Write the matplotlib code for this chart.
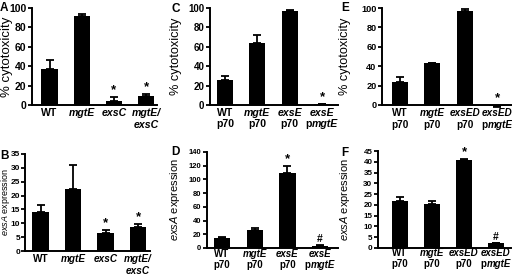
import matplotlib
matplotlib.use("Agg")
import matplotlib.pyplot as plt
from matplotlib.offsetbox import TextArea, HPacker, AnnotationBbox

plt.rcParams['font.family'] = ['Liberation Sans', 'DejaVu Sans']
plt.rcParams['mathtext.fontset'] = 'custom'
plt.rcParams['mathtext.rm'] = 'Liberation Sans'
plt.rcParams['mathtext.it'] = 'Liberation Sans:italic'

# ---------------- data ----------------
# each label: list of lines, each line a list of (text, italic) segments
labels_AB = [[[("WT", False)]],
             [[("mgtE", True)]],
             [[("exsC", True)]],
             [[("mgtE/", True)], [("exsC", True)]]]
labels_CD = [[[("WT", False)], [("p70", False)]],
             [[("mgtE", True)], [("p70", False)]],
             [[("exsE", True)], [("p70", False)]],
             [[("exsE", True)], [("p", False), ("mgtE", True)]]]
labels_EF = [[[("WT", False)], [("p70", False)]],
             [[("mgtE", True)], [("p70", False)]],
             [[("exsED", True)], [("p70", False)]],
             [[("exsED", True)], [("p", False), ("mgtE", True)]]]

A_vals = [37, 92, 4, 9.5]
A_err = [9, 2, 4, 1.5]
A_marks = ["", "", "*", "*"]

B_vals = [14.2, 22.5, 6.5, 8.5]
B_err = [2.3, 8.5, 1.2, 1.4]
B_marks = ["", "", "*", "*"]

C_vals = [25.5, 64, 97, 1]
C_err = [4, 8, 1, 0.5]
C_marks = ["", "", "", "*"]

D_vals = [15, 26.5, 110, 3.5]
D_err = [1.5, 3, 10, 1]
D_marks = ["", "", "*", "#"]

E_vals = [23.5, 43, 97, -1.5]
E_err = [5, 0.8, 1.5, 0.5]
E_marks = ["", "", "", "*"]

F_vals = [21.8, 20.5, 41, 2.2]
F_err = [1.8, 1.2, 0.5, 0.3]
F_marks = ["", "", "*", "#"]

W, H = 512, 274
PT = 0.72  # points per pixel at dpi 100
fig = plt.figure(figsize=(W / 100, H / 100), dpi=100)


def px_axes(left, right, top_px, bot_px):
    return fig.add_axes([left / W, 1 - bot_px / H, (right - left) / W, (bot_px - top_px) / H])


def panel(letter, lx, ly, left, right, top_px, zero_px, centers_px, vals, errs, marks,
          labels, ymax, ystep, ylabel, ylab_x, ytick_fs, xlab_fs, line_offs, ylab_fs,
          ymin=0.0, ytick_pad=1):
    ppu = (zero_px - top_px) / ymax
    bot_px = zero_px + (-ymin) * ppu
    ax = px_axes(left, right, top_px, bot_px)
    spacing = (centers_px[-1] - centers_px[0]) / 3.0
    xl = (left - centers_px[0]) / spacing
    xr = (right - centers_px[0]) / spacing
    x = list(range(len(vals)))
    ax.bar(x, vals, width=0.5, color='black', zorder=2)
    up = [e if v >= 0 else 0 for v, e in zip(vals, errs)]
    dn = [0 if v >= 0 else e for v, e in zip(vals, errs)]
    ax.errorbar(x, vals, yerr=[dn, up], fmt='none', ecolor='black', elinewidth=1.3,
                capsize=3.2, capthick=1.3, zorder=3)
    for xi, v, e, m in zip(x, vals, errs, marks):
        if m:
            top = max(v + (e if v >= 0 else 0), 0)
            ax.annotate(m, (xi, top), xytext=(0, 0.5), textcoords='offset points',
                        ha='center', va='bottom', fontsize=9.5 if m == '*' else 7.5,
                        fontweight='bold')
    ax.set_xlim(xl, xr)
    ax.set_ylim(ymin, ymax)
    ticks = [i * ystep for i in range(int(round(ymax / ystep)) + 1)]
    ax.set_yticks(ticks)
    ax.set_yticklabels([str(t) for t in ticks], fontsize=ytick_fs, fontweight='bold')
    ax.set_xticks([])
    ax.tick_params(axis='y', length=3, width=1.3, pad=ytick_pad, direction='out')
    for s in ['top', 'right']:
        ax.spines[s].set_visible(False)
    ax.spines['left'].set_linewidth(1.4)
    ax.spines['bottom'].set_linewidth(1.4)
    ax.spines['bottom'].set_position(('data', 0))
    ax.spines['left'].set_bounds(0, ymax)
    ax.patch.set_visible(False)
    # category labels, line by line
    for xi, lab in zip(x, labels):
        for li, line in enumerate(lab):
            parts = [TextArea(t, textprops=dict(fontsize=xlab_fs, fontweight='bold',
                                                fontstyle='italic' if it else 'normal'))
                     for t, it in line]
            box = HPacker(children=parts, pad=0, sep=0, align='baseline')
            ab = AnnotationBbox(box, (xi, 0), xycoords='data',
                                xybox=(0, -line_offs[li] * PT), boxcoords='offset points',
                                box_alignment=(0.5, 0.5), frameon=False, pad=0,
                                annotation_clip=False)
            ax.add_artist(ab)
    fig.text(ylab_x / W, 1 - ((top_px + zero_px) / 2) / H, ylabel, rotation=90,
             ha='center', va='center', fontsize=ylab_fs)
    fig.text(lx / W, 1 - ly / H, letter, ha='left', va='top', fontsize=8.5, fontweight='bold')
    return ax


cyto = "% cytotoxicity"
expr = r"$\mathit{exsA}$ expression"

panel("A", 0, 2, 32, 157, 8, 105, [49.5, 82, 113, 146], A_vals, A_err, A_marks,
      labels_AB, 100, 20, cyto, 7.5, 7.5, 7.6, (8.5, 20), 9.5)
panel("B", 0, 150, 25, 150, 154, 251, [40.5, 72, 104.5, 138], B_vals, B_err, B_marks,
      labels_AB, 35, 5, expr, 5.3, 6.0, 7.2, (8, 19.5), 6.5, ytick_pad=0.5)
panel("C", 171, 3, 210, 338, 8, 105, [225, 258, 290, 322], C_vals, C_err, C_marks,
      labels_CD, 100, 20, cyto, 176, 7, 7.6, (8, 19.5), 9.2)
panel("D", 171, 146, 207, 338, 152, 248, [222, 255, 287, 320], D_vals, D_err, D_marks,
      labels_CD, 140, 20, expr, 175, 5.5, 7.0, (6, 17), 8)
panel("E", 341, 2, 382, 511, 8, 105, [400, 433, 465, 497], E_vals, E_err, E_marks,
      labels_EF, 100, 20, cyto, 345, 6.6, 7.2, (8, 19.5), 9.2, ymin=-4)
panel("F", 341, 147, 378, 511, 151, 248, [400, 432, 464, 496], F_vals, F_err, F_marks,
      labels_EF, 45, 5, expr, 345, 5.8, 7.0, (5, 16), 8)

fig.savefig("out.png", dpi=100)
